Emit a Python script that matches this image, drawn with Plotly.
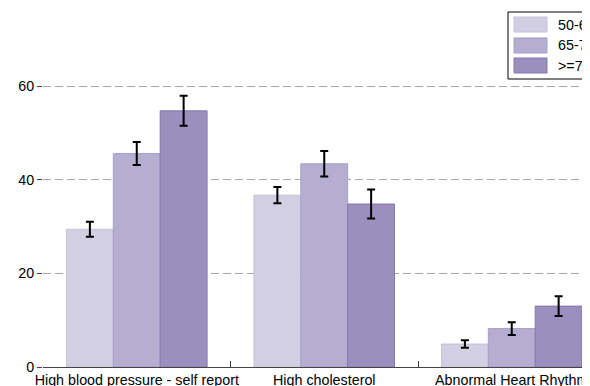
import plotly.graph_objects as go

categories = ["High blood pressure - self report", "High cholesterol", "Abnormal Heart Rhythm"]
series_names = ["50-64", "65-74", ">=75"]
values_50_64 = [29.4, 36.7, 4.9]
values_65_74 = [45.6, 43.4, 8.2]
values_75_up = [54.7, 34.8, 13.0]
err_50_64 = [1.6, 1.75, 0.8]
err_65_74 = [2.45, 2.7, 1.35]
err_75_up = [3.2, 3.1, 2.1]
y_ticks = [0, 20, 40, 60]

fills = ["#d3cfe3", "#b5aed1", "#9b8fbd"]
edges = ["#c6c0dc", "#a69ec8", "#8476b0"]

# the page body adds an 8px offset, so the figure is sized to the visible area
OFF = 8
W, H = 590 - OFF, 386 - OFF
L, R, T, B = 43 - OFF, 0, 39 - OFF, 19
pw, ph = W - L - R, H - T - B
px_per_unit = 4.683
y_top = ph / px_per_unit
FS = 14.3

fig = go.Figure()
for name, vals, errs, fc, ec in zip(series_names,
                                    [values_50_64, values_65_74, values_75_up],
                                    [err_50_64, err_65_74, err_75_up], fills, edges):
    fig.add_trace(go.Bar(
        x=categories, y=vals, name=name,
        marker=dict(color=fc, line=dict(color=ec, width=1)),
        error_y=dict(type="data", array=errs, color="black", thickness=2, width=4),
        showlegend=False,
    ))

# custom legend (box + swatches + labels), positions in window pixels
def px2x(p):
    return (p - OFF - L) / pw

def py2y(p):
    return (H - B - (p - OFF)) / ph

shapes = [dict(type="rect", xref="paper", yref="paper",
               x0=px2x(508), x1=px2x(588.5), y0=py2y(79), y1=py2y(12),
               line=dict(color="black", width=1), fillcolor="white", layer="above")]
annotations = []
rows = [(17, 32), (38, 53), (58, 73)]
for (y0, y1), name, fc, ec in zip(rows, series_names, fills, edges):
    shapes.append(dict(type="rect", xref="paper", yref="paper",
                       x0=px2x(514), x1=px2x(547), y0=py2y(y1), y1=py2y(y0),
                       line=dict(color=ec, width=1), fillcolor=fc, layer="above"))
    annotations.append(dict(xref="paper", yref="paper", x=px2x(556), y=py2y((y0 + y1) / 2),
                            text=name, showarrow=False, xanchor="left", yanchor="middle",
                            font=dict(size=FS, color="black")))

fig.update_layout(
    width=W, height=H,
    margin=dict(l=L, r=R, t=T, b=B, pad=0, autoexpand=False),
    paper_bgcolor="white", plot_bgcolor="white",
    barmode="group", bargap=0.25, bargroupgap=0,
    font=dict(family="Liberation Sans, Arial, sans-serif", size=FS, color="black"),
    shapes=shapes, annotations=annotations,
    xaxis=dict(
        range=[-0.5, -0.5 + pw / 187.5],
        tickson="boundaries", ticks="inside", ticklen=6, tickcolor="#444",
        showline=True, linecolor="#444", linewidth=1,
        showgrid=False, zeroline=False, ticklabelstandoff=0, tickangle=0,
        tickfont=dict(size=FS), automargin=False,
    ),
    yaxis=dict(
        range=[0, y_top], tickvals=y_ticks, ticktext=[str(v) for v in y_ticks],
        ticks="outside", ticklen=5, tickcolor="#444",
        showgrid=True, gridcolor="#a8a8a8", gridwidth=1, griddash="8px,4px",
        zeroline=False, showline=False, ticklabelstandoff=0,
        tickfont=dict(size=FS), automargin=False,
    ),
)

fig.write_html("out.html")
